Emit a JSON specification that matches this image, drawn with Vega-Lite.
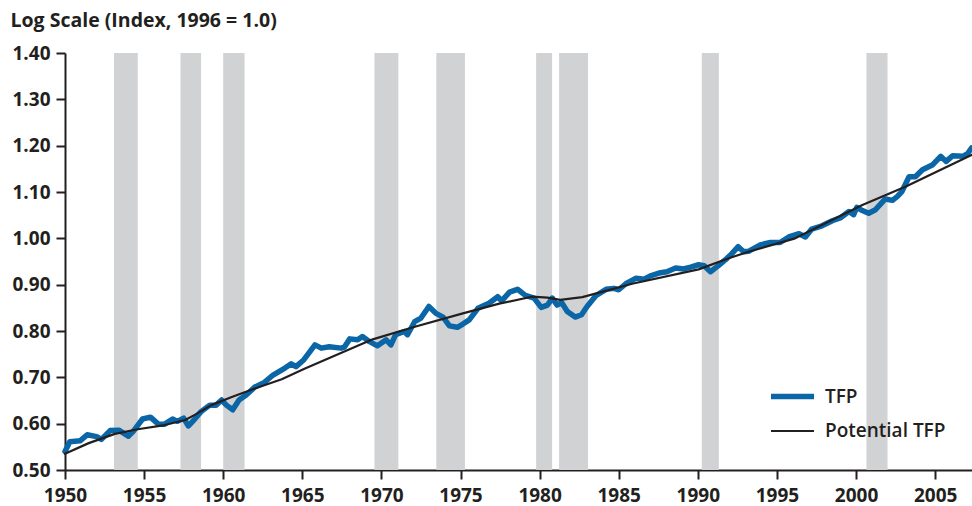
{
  "$schema": "https://vega.github.io/schema/vega-lite/v6.json",
  "width": 907,
  "height": 417,
  "autosize": "none",
  "padding": {"left": 65, "top": 53, "right": 0, "bottom": 36},
  "background": "white",
  "datasets": {
    "bands": [
      {"start": 1953.1, "end": 1954.6},
      {"start": 1957.3, "end": 1958.6},
      {"start": 1960.0, "end": 1961.35},
      {"start": 1969.56, "end": 1971.07},
      {"start": 1973.47, "end": 1975.28},
      {"start": 1979.78, "end": 1980.79},
      {"start": 1981.23, "end": 1983.06},
      {"start": 1990.25, "end": 1991.33},
      {"start": 2000.66, "end": 2001.99}
    ],
    "series": [
      {"date": 1950.0, "series": "TFP", "v": 0.540},
      {"date": 1950.3, "series": "TFP", "v": 0.561},
      {"date": 1950.95, "series": "TFP", "v": 0.563},
      {"date": 1951.4, "series": "TFP", "v": 0.576},
      {"date": 1952.0, "series": "TFP", "v": 0.572},
      {"date": 1952.3, "series": "TFP", "v": 0.566},
      {"date": 1952.85, "series": "TFP", "v": 0.585},
      {"date": 1953.4, "series": "TFP", "v": 0.586},
      {"date": 1954.0, "series": "TFP", "v": 0.573},
      {"date": 1954.3, "series": "TFP", "v": 0.583},
      {"date": 1954.9, "series": "TFP", "v": 0.610},
      {"date": 1955.4, "series": "TFP", "v": 0.614},
      {"date": 1955.9, "series": "TFP", "v": 0.599},
      {"date": 1956.3, "series": "TFP", "v": 0.599},
      {"date": 1956.8, "series": "TFP", "v": 0.610},
      {"date": 1957.1, "series": "TFP", "v": 0.605},
      {"date": 1957.5, "series": "TFP", "v": 0.612},
      {"date": 1957.8, "series": "TFP", "v": 0.595},
      {"date": 1958.2, "series": "TFP", "v": 0.610},
      {"date": 1958.6, "series": "TFP", "v": 0.626},
      {"date": 1959.15, "series": "TFP", "v": 0.640},
      {"date": 1959.55, "series": "TFP", "v": 0.640},
      {"date": 1959.9, "series": "TFP", "v": 0.651},
      {"date": 1960.2, "series": "TFP", "v": 0.640},
      {"date": 1960.6, "series": "TFP", "v": 0.630},
      {"date": 1961.0, "series": "TFP", "v": 0.651},
      {"date": 1961.45, "series": "TFP", "v": 0.662},
      {"date": 1962.0, "series": "TFP", "v": 0.679},
      {"date": 1962.6, "series": "TFP", "v": 0.689},
      {"date": 1963.15, "series": "TFP", "v": 0.705},
      {"date": 1963.9, "series": "TFP", "v": 0.720},
      {"date": 1964.3, "series": "TFP", "v": 0.729},
      {"date": 1964.6, "series": "TFP", "v": 0.723},
      {"date": 1965.1, "series": "TFP", "v": 0.738},
      {"date": 1965.8, "series": "TFP", "v": 0.770},
      {"date": 1966.2, "series": "TFP", "v": 0.763},
      {"date": 1966.7, "series": "TFP", "v": 0.766},
      {"date": 1967.45, "series": "TFP", "v": 0.763},
      {"date": 1967.65, "series": "TFP", "v": 0.765},
      {"date": 1968.0, "series": "TFP", "v": 0.783},
      {"date": 1968.5, "series": "TFP", "v": 0.781},
      {"date": 1968.8, "series": "TFP", "v": 0.788},
      {"date": 1969.25, "series": "TFP", "v": 0.777},
      {"date": 1969.75, "series": "TFP", "v": 0.768},
      {"date": 1970.3, "series": "TFP", "v": 0.781},
      {"date": 1970.6, "series": "TFP", "v": 0.770},
      {"date": 1970.9, "series": "TFP", "v": 0.792},
      {"date": 1971.45, "series": "TFP", "v": 0.799},
      {"date": 1971.65, "series": "TFP", "v": 0.792},
      {"date": 1972.1, "series": "TFP", "v": 0.820},
      {"date": 1972.5, "series": "TFP", "v": 0.828},
      {"date": 1973.0, "series": "TFP", "v": 0.853},
      {"date": 1973.45, "series": "TFP", "v": 0.838},
      {"date": 1973.9, "series": "TFP", "v": 0.830},
      {"date": 1974.3, "series": "TFP", "v": 0.811},
      {"date": 1974.8, "series": "TFP", "v": 0.808},
      {"date": 1975.15, "series": "TFP", "v": 0.815},
      {"date": 1975.55, "series": "TFP", "v": 0.824},
      {"date": 1976.1, "series": "TFP", "v": 0.849},
      {"date": 1976.8, "series": "TFP", "v": 0.860},
      {"date": 1977.35, "series": "TFP", "v": 0.874},
      {"date": 1977.6, "series": "TFP", "v": 0.865},
      {"date": 1978.1, "series": "TFP", "v": 0.884},
      {"date": 1978.6, "series": "TFP", "v": 0.890},
      {"date": 1979.1, "series": "TFP", "v": 0.877},
      {"date": 1979.65, "series": "TFP", "v": 0.871},
      {"date": 1980.1, "series": "TFP", "v": 0.851},
      {"date": 1980.5, "series": "TFP", "v": 0.856},
      {"date": 1980.8, "series": "TFP", "v": 0.871},
      {"date": 1981.1, "series": "TFP", "v": 0.856},
      {"date": 1981.4, "series": "TFP", "v": 0.861},
      {"date": 1981.75, "series": "TFP", "v": 0.842},
      {"date": 1982.25, "series": "TFP", "v": 0.830},
      {"date": 1982.65, "series": "TFP", "v": 0.835},
      {"date": 1983.0, "series": "TFP", "v": 0.853},
      {"date": 1983.55, "series": "TFP", "v": 0.876},
      {"date": 1984.2, "series": "TFP", "v": 0.890},
      {"date": 1984.7, "series": "TFP", "v": 0.892},
      {"date": 1985.0, "series": "TFP", "v": 0.889},
      {"date": 1985.45, "series": "TFP", "v": 0.902},
      {"date": 1986.1, "series": "TFP", "v": 0.914},
      {"date": 1986.6, "series": "TFP", "v": 0.912},
      {"date": 1987.0, "series": "TFP", "v": 0.919},
      {"date": 1987.55, "series": "TFP", "v": 0.925},
      {"date": 1988.05, "series": "TFP", "v": 0.928},
      {"date": 1988.6, "series": "TFP", "v": 0.936},
      {"date": 1989.1, "series": "TFP", "v": 0.934},
      {"date": 1989.55, "series": "TFP", "v": 0.938},
      {"date": 1990.05, "series": "TFP", "v": 0.943},
      {"date": 1990.4, "series": "TFP", "v": 0.941},
      {"date": 1990.8, "series": "TFP", "v": 0.928},
      {"date": 1991.3, "series": "TFP", "v": 0.941},
      {"date": 1991.75, "series": "TFP", "v": 0.954},
      {"date": 1992.15, "series": "TFP", "v": 0.967},
      {"date": 1992.55, "series": "TFP", "v": 0.982},
      {"date": 1992.9, "series": "TFP", "v": 0.971},
      {"date": 1993.2, "series": "TFP", "v": 0.972},
      {"date": 1993.95, "series": "TFP", "v": 0.986},
      {"date": 1994.6, "series": "TFP", "v": 0.991},
      {"date": 1995.2, "series": "TFP", "v": 0.991},
      {"date": 1995.75, "series": "TFP", "v": 1.003},
      {"date": 1996.4, "series": "TFP", "v": 1.010},
      {"date": 1996.8, "series": "TFP", "v": 1.003},
      {"date": 1997.2, "series": "TFP", "v": 1.020},
      {"date": 1997.85, "series": "TFP", "v": 1.027},
      {"date": 1998.5, "series": "TFP", "v": 1.038},
      {"date": 1999.0, "series": "TFP", "v": 1.044},
      {"date": 1999.55, "series": "TFP", "v": 1.058},
      {"date": 1999.85, "series": "TFP", "v": 1.051},
      {"date": 2000.05, "series": "TFP", "v": 1.067},
      {"date": 2000.4, "series": "TFP", "v": 1.060},
      {"date": 2000.8, "series": "TFP", "v": 1.054},
      {"date": 2001.2, "series": "TFP", "v": 1.061},
      {"date": 2001.85, "series": "TFP", "v": 1.085},
      {"date": 2002.3, "series": "TFP", "v": 1.082},
      {"date": 2002.6, "series": "TFP", "v": 1.090},
      {"date": 2002.9, "series": "TFP", "v": 1.101},
      {"date": 2003.35, "series": "TFP", "v": 1.133},
      {"date": 2003.75, "series": "TFP", "v": 1.133},
      {"date": 2004.2, "series": "TFP", "v": 1.148},
      {"date": 2004.85, "series": "TFP", "v": 1.159},
      {"date": 2005.35, "series": "TFP", "v": 1.177},
      {"date": 2005.7, "series": "TFP", "v": 1.166},
      {"date": 2006.1, "series": "TFP", "v": 1.178},
      {"date": 2006.75, "series": "TFP", "v": 1.177},
      {"date": 2007.05, "series": "TFP", "v": 1.183},
      {"date": 2007.3, "series": "TFP", "v": 1.195},
      {"date": 1950.0, "series": "Potential TFP", "v": 0.535},
      {"date": 1951.5, "series": "Potential TFP", "v": 0.558},
      {"date": 1953.15, "series": "Potential TFP", "v": 0.578},
      {"date": 1954.6, "series": "Potential TFP", "v": 0.588},
      {"date": 1956.3, "series": "Potential TFP", "v": 0.597},
      {"date": 1957.6, "series": "Potential TFP", "v": 0.608},
      {"date": 1958.2, "series": "Potential TFP", "v": 0.619},
      {"date": 1959.25, "series": "Potential TFP", "v": 0.640},
      {"date": 1960.5, "series": "Potential TFP", "v": 0.657},
      {"date": 1962.0, "series": "Potential TFP", "v": 0.676},
      {"date": 1963.7, "series": "Potential TFP", "v": 0.696},
      {"date": 1965.1, "series": "Potential TFP", "v": 0.718},
      {"date": 1969.45, "series": "Potential TFP", "v": 0.782},
      {"date": 1972.0, "series": "Potential TFP", "v": 0.808},
      {"date": 1975.15, "series": "Potential TFP", "v": 0.838},
      {"date": 1977.45, "series": "Potential TFP", "v": 0.859},
      {"date": 1979.5, "series": "Potential TFP", "v": 0.874},
      {"date": 1980.5, "series": "Potential TFP", "v": 0.872},
      {"date": 1981.3, "series": "Potential TFP", "v": 0.867},
      {"date": 1982.7, "series": "Potential TFP", "v": 0.873},
      {"date": 1985.85, "series": "Potential TFP", "v": 0.902},
      {"date": 1990.05, "series": "Potential TFP", "v": 0.933},
      {"date": 1991.95, "series": "Potential TFP", "v": 0.957},
      {"date": 1993.2, "series": "Potential TFP", "v": 0.971},
      {"date": 1996.15, "series": "Potential TFP", "v": 1.000},
      {"date": 2000.4, "series": "Potential TFP", "v": 1.072},
      {"date": 2003.15, "series": "Potential TFP", "v": 1.112},
      {"date": 2007.3, "series": "Potential TFP", "v": 1.180}
    ]
  },
  "layer": [
    {
      "data": {"name": "bands"},
      "mark": {"type": "rect", "color": "#d1d2d4"},
      "encoding": {
        "x": {"field": "start", "type": "quantitative"},
        "x2": {"field": "end"},
        "y": {"datum": 1.4},
        "y2": {"datum": 0.5}
      }
    },
    {
      "data": {"name": "series"},
      "mark": {"type": "line", "strokeCap": "round", "strokeJoin": "round"},
      "encoding": {
        "x": {
          "field": "date",
          "type": "quantitative",
          "scale": {"domain": [1950, 2007.33], "nice": false, "zero": false},
          "axis": {
            "values": [1950, 1955, 1960, 1965, 1970, 1975, 1980, 1985, 1990, 1995, 2000, 2005],
            "format": "d",
            "title": null,
            "grid": false,
            "labelFlush": false,
            "labelOverlap": false,
            "domainColor": "#231f20",
            "domainWidth": 2,
            "tickColor": "#231f20",
            "tickWidth": 2,
            "tickSize": 9,
            "labelFont": "Open Sans",
            "labelFontWeight": "bold",
            "labelFontSize": 19,
            "labelColor": "#231f20",
            "labelPadding": 7
          }
        },
        "y": {
          "field": "v",
          "type": "quantitative",
          "scale": {"domain": [0.5, 1.4], "nice": false, "zero": false},
          "axis": {
            "values": [0.5, 0.6, 0.7, 0.8, 0.9, 1.0, 1.1, 1.2, 1.3, 1.4],
            "format": ".2f",
            "title": "Log Scale (Index, 1996 = 1.0)",
            "titleAngle": 0,
            "titleX": -55,
            "titleY": -27,
            "titleAlign": "left",
            "titleBaseline": "alphabetic",
            "titleFont": "Open Sans",
            "titleFontWeight": "bold",
            "titleFontSize": 19.5,
            "titleColor": "#231f20",
            "grid": false,
            "domainColor": "#231f20",
            "domainWidth": 2,
            "tickColor": "#231f20",
            "tickWidth": 2,
            "tickSize": 9,
            "labelFont": "Open Sans",
            "labelFontWeight": "bold",
            "labelFontSize": 19,
            "labelColor": "#231f20",
            "labelPadding": 6
          }
        },
        "color": {
          "field": "series",
          "type": "nominal",
          "sort": ["TFP", "Potential TFP"],
          "scale": {"domain": ["TFP", "Potential TFP"], "range": ["#0b66a8", "#231f20"]},
          "legend": {
            "title": null,
            "orient": "none",
            "legendX": 703,
            "legendY": 319,
            "symbolType": "stroke",
            "symbolSize": 1849,
            "labelFont": "Open Sans",
            "labelFontWeight": 600,
            "labelFontSize": 19,
            "labelColor": "#231f20",
            "labelOffset": 8,
            "rowPadding": -13
          }
        },
        "strokeWidth": {
          "field": "series",
          "type": "nominal",
          "sort": ["TFP", "Potential TFP"],
          "scale": {"domain": ["TFP", "Potential TFP"], "range": [5.5, 2.2]},
          "legend": {
            "title": null,
            "orient": "none",
            "legendX": 703,
            "legendY": 319,
            "symbolType": "stroke",
            "symbolSize": 1849,
            "labelFont": "Open Sans",
            "labelFontWeight": 600,
            "labelFontSize": 19,
            "labelColor": "#231f20",
            "labelOffset": 8,
            "rowPadding": -13
          }
        }
      }
    }
  ],
  "config": {
    "view": {"stroke": null},
    "legend": {"symbolStrokeColor": null}
  }
}
